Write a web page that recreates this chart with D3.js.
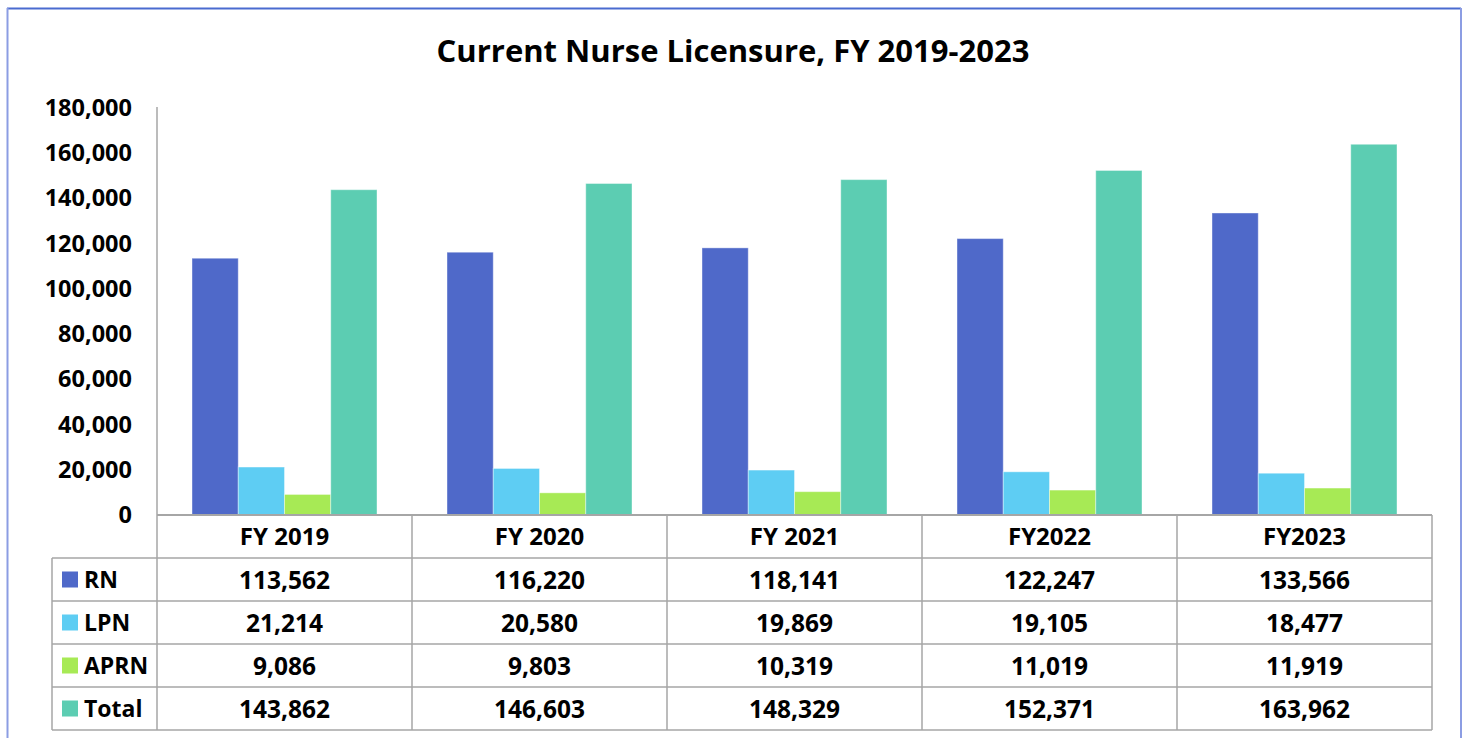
<!doctype html>
<html>
<head>
<meta charset="utf-8">
<style>
    body { margin: 0; background: #fff; }
    text { font-family: "Open Sans", "Liberation Sans", sans-serif; font-weight: bold; fill: #000; }
</style>
<script src="https://d3js.org/d3.v7.min.js"></script>
</head>
<body>
<svg width="1465" height="738"></svg>
<script>

    // data
    var categories = ["FY 2019", "FY 2020", "FY 2021", "FY2022", "FY2023"];
    var seriesNames = ["RN", "LPN", "APRN", "Total"];
    var rn    = [113562, 116220, 118141, 122247, 133566];
    var lpn   = [21214, 20580, 19869, 19105, 18477];
    var aprn  = [9086, 9803, 10319, 11019, 11919];
    var total = [143862, 146603, 148329, 152371, 163962];
    var yTicks = [0, 20000, 40000, 60000, 80000, 100000, 120000, 140000, 160000, 180000];

    var colors = ["#4f69c9", "#5ecdf3", "#a7ea55", "#5ccdb2"];
    var values = [rn, lpn, aprn, total];

    var svg = d3.select("svg");
    var fmt = d3.format(",");

    // outer frame
    svg.append("line").attr("x1", 7).attr("x2", 1461).attr("y1", 8.5).attr("y2", 8.5)
       .attr("stroke", "#4a6bd0").attr("stroke-width", 2);
    svg.append("line").attr("x1", 7.5).attr("x2", 7.5).attr("y1", 8).attr("y2", 738)
       .attr("stroke", "#8c9de3").attr("stroke-width", 2);
    svg.append("line").attr("x1", 1461).attr("x2", 1461).attr("y1", 8).attr("y2", 738)
       .attr("stroke", "#8c9de3").attr("stroke-width", 2);

    svg.append("text")
       .attr("x", 733)
       .attr("y", 62)
       .attr("text-anchor", "middle")
       .attr("font-size", "31px")
       .text("Current Nurse Licensure, FY 2019-2023");

    var left = 157, right = 1432, baseY = 515, topY = 108;

    var x0 = d3.scaleBand().domain(categories).range([left, right]);
    var x1 = d3.scaleBand().domain(seriesNames).range([35, x0.bandwidth() - 35]);
    var y = d3.scaleLinear().domain([0, 180000]).range([baseY, topY]);

    // y axis
    var yAxis = svg.append("g")
       .attr("transform", "translate(" + left + ",0)")
       .call(d3.axisLeft(y).tickValues(yTicks).tickFormat(fmt).tickSize(0).tickPadding(25));
    yAxis.select(".domain").attr("stroke", "#a6a6a6").attr("stroke-width", 1.5)
       .attr("d", "M0," + (topY - 1) + "V" + baseY);
    yAxis.selectAll("text").attr("font-size", "23.5px").attr("font-family", null).attr("fill", "#000");

    // bars
    var groups = svg.selectAll(".grp")
       .data(categories)
       .enter().append("g")
       .attr("class", "grp")
       .attr("transform", function(d) { return "translate(" + x0(d) + ",0)"; });

    groups.selectAll("rect")
       .data(function(d, i) { return seriesNames.map(function(s, j) { return { s: s, v: values[j][i], c: colors[j] }; }); })
       .enter().append("rect")
       .attr("x", function(d) { return x1(d.s); })
       .attr("y", function(d) { return y(d.v); })
       .attr("width", x1.bandwidth())
       .attr("height", function(d) { return baseY - y(d.v); })
       .attr("fill", function(d) { return d.c; })
       .attr("stroke", "#ffffff")
       .attr("stroke-opacity", 0.4)
       .attr("stroke-width", 1);

    // data table
    var rowH = 43;
    var headTop = baseY, headBot = 558;
    var tableLeft = 52;
    var tableBottom = headBot + rowH * seriesNames.length;
    var grid = "#a6a6a6";

    var tbl = svg.append("g");

    // horizontal lines
    tbl.append("line").attr("x1", left).attr("x2", right).attr("y1", baseY).attr("y2", baseY)
       .attr("stroke", grid).attr("stroke-width", 2);
    d3.range(seriesNames.length + 1).forEach(function(i) {
        var yy = headBot + i * rowH;
        tbl.append("line").attr("x1", tableLeft).attr("x2", right).attr("y1", yy).attr("y2", yy)
           .attr("stroke", grid).attr("stroke-width", 1.5);
    });
    // vertical lines
    tbl.append("line").attr("x1", tableLeft).attr("x2", tableLeft).attr("y1", headBot).attr("y2", tableBottom)
       .attr("stroke", grid).attr("stroke-width", 1.5);
    categories.forEach(function(c) {
        tbl.append("line").attr("x1", x0(c)).attr("x2", x0(c)).attr("y1", headTop).attr("y2", tableBottom)
           .attr("stroke", grid).attr("stroke-width", 1.5);
    });
    tbl.append("line").attr("x1", right).attr("x2", right).attr("y1", headTop).attr("y2", tableBottom)
       .attr("stroke", grid).attr("stroke-width", 1.5);

    // header labels
    tbl.selectAll(".hdr")
       .data(categories)
       .enter().append("text")
       .attr("x", function(d) { return x0(d) + x0.bandwidth() / 2; })
       .attr("y", (headTop + headBot) / 2 + 8)
       .attr("text-anchor", "middle")
       .attr("font-size", "24px")
       .text(function(d) { return d; });

    // rows
    seriesNames.forEach(function(s, j) {
        var cy = headBot + j * rowH + rowH / 2;
        tbl.append("rect").attr("x", 62).attr("y", cy - 8).attr("width", 16).attr("height", 16)
           .attr("fill", colors[j]);
        tbl.append("text").attr("x", 84).attr("y", cy + 8).attr("font-size", "23px").text(s);
        categories.forEach(function(c, i) {
            tbl.append("text")
               .attr("x", x0(c) + x0.bandwidth() / 2)
               .attr("y", cy + 9)
               .attr("text-anchor", "middle")
               .attr("font-size", "24.5px")
               .text(fmt(values[j][i]));
        });
    });

</script>
</body>
</html>
